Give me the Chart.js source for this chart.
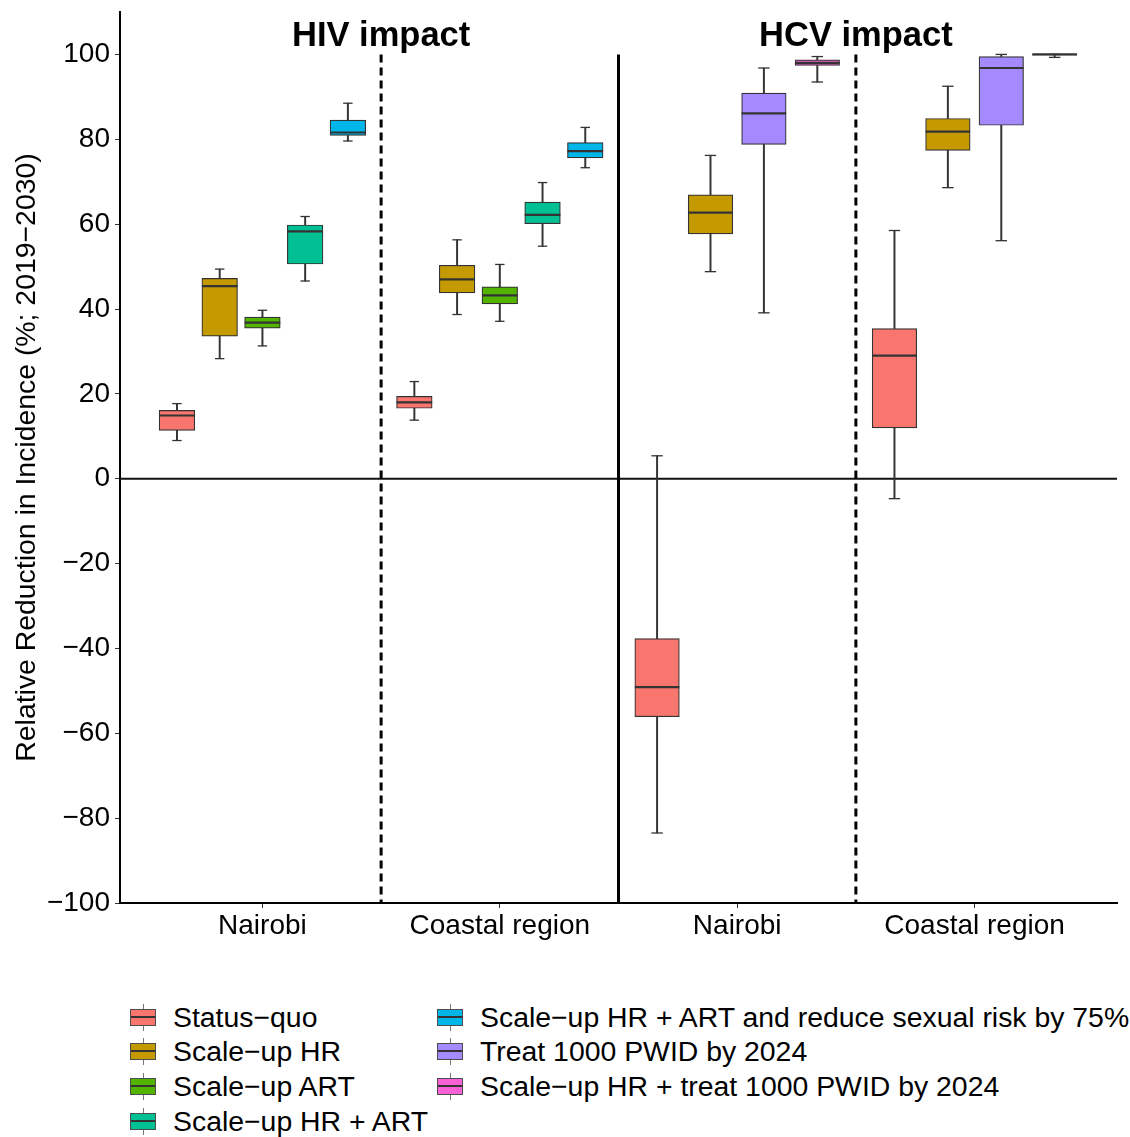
<!DOCTYPE html>
<html>
<head>
<meta charset="utf-8">
<title>Relative reduction in incidence</title>
<script src="https://cdn.jsdelivr.net/npm/chart.js@4"></script>
<style>
  body { margin: 0; background: #fff; font-family: "Liberation Sans", Arial, sans-serif; }
  #wrap { position: relative; width: 1130px; height: 1137px; }
  #box { position: absolute; left: 0; top: 0; width: 1130px; height: 953px; }
  .item { position: absolute; display: flex; align-items: center; height: 34px; font-size: 28.4px; color: #000; white-space: nowrap; }
  .key { position: relative; width: 24px; height: 15px; border: 1px solid #4d4d4d; margin-right: 17px; }
  .key .med { position: absolute; left: 0; right: 0; top: 6px; height: 2px; background: #333; }
  .key .stub { position: absolute; left: 12px; width: 1px; height: 5px; background: #777; }
  .key .up { top: -6px; }
  .key .down { bottom: -6px; }
</style>
</head>
<body>
<div id="wrap">
  <div id="box"><canvas id="boxChart"></canvas></div>
  <div id="legend"></div>
</div>
<script>
// series (legend order) and their fill colours
const series = [
  'Status\u2212quo',
  'Scale\u2212up HR',
  'Scale\u2212up ART',
  'Scale\u2212up HR + ART',
  'Scale\u2212up HR + ART and reduce sexual risk by 75%',
  'Treat 1000 PWID by 2024',
  'Scale\u2212up HR + treat 1000 PWID by 2024'
];
const seriesColors = ['#F8766D', '#C49A00', '#53B400', '#00C094', '#00B6EB', '#A58AFF', '#FB61D7'];

const panels = ['HIV impact', 'HCV impact'];
const regions = ['Nairobi', 'Coastal region'];
const hivSeries = [0, 1, 2, 3, 4];
const hcvSeries = [0, 1, 5, 6];

// each box: [lower whisker, q1, median, q3, upper whisker]
const hivNairobi = [
  [9.0, 11.4, 14.9, 16.1, 17.7],
  [28.3, 33.6, 45.4, 47.2, 49.4],
  [31.3, 35.5, 36.8, 38.1, 39.7],
  [46.6, 50.6, 58.3, 59.8, 61.8],
  [79.6, 80.9, 81.6, 84.5, 88.5]
];
const hivCoastal = [
  [13.8, 16.6, 18.0, 19.4, 22.9],
  [38.7, 43.8, 47.0, 50.3, 56.3],
  [37.1, 41.2, 43.2, 45.2, 50.5],
  [54.8, 60.1, 62.2, 65.2, 69.8],
  [73.3, 75.6, 77.2, 79.2, 82.8]
];
const hcvNairobi = [
  [-83.5, -56.1, -49.1, -37.7, 5.4],
  [48.8, 57.7, 62.7, 66.9, 76.2],
  [39.1, 78.8, 86.1, 90.9, 96.8],
  [93.5, 97.4, 98.0, 98.7, 99.5]
];
const hcvCoastal = [
  [-4.7, 12.0, 29.0, 35.4, 58.5],
  [68.6, 77.4, 81.8, 84.9, 92.5],
  [56.1, 83.3, 96.8, 99.5, 100],
  [99.3, 99.8, 100, 100, 100]
];

const yTicks = [-100, -80, -60, -40, -20, 0, 20, 40, 60, 80, 100];

// layout: 4 groups on a 0.4..4.6 axis, boxes dodged within 0.9 of a unit
const groups = [
  { panel: 0, ids: hivSeries, stats: hivNairobi },
  { panel: 0, ids: hivSeries, stats: hivCoastal },
  { panel: 1, ids: hcvSeries, stats: hcvNairobi },
  { panel: 1, ids: hcvSeries, stats: hcvCoastal }
];
const plotWidth = 1130 - 120 - 13;
const pxPerUnit = plotWidth / 4.2;
const dark = '#333333';

const datasets = [];
panels.forEach((p, pi) => {
  const items = [];
  groups.forEach((g, gi) => {
    if (g.panel !== pi) return;
    const n = g.ids.length;
    g.ids.forEach((sid, i) => {
      items.push({ x: gi + 1 + (i - (n - 1) / 2) * 0.9 / n, s: g.stats[i], color: seriesColors[sid] });
    });
  });
  const n = pi === 0 ? hivSeries.length : hcvSeries.length;
  const boxW = 0.75 / n * pxPerUnit;
  datasets.push({
    type: 'bar', order: 2, grouped: false, barThickness: boxW,
    data: items.map(d => ({ x: d.x, y: [d.s[1], d.s[3]] })),
    backgroundColor: items.map(d => d.color),
    borderColor: dark, borderWidth: 1.2, borderSkipped: false
  });
  datasets.push({
    type: 'bar', order: 3, grouped: false, barThickness: 1.3,
    data: items.flatMap(d => [{ x: d.x, y: [d.s[0], d.s[1]] }, { x: d.x, y: [d.s[3], d.s[4]] }]),
    backgroundColor: dark, borderWidth: 0
  });
  datasets.push({
    type: 'line', order: 1, showLine: false,
    data: items.flatMap(d => [{ x: d.x, y: d.s[0] }, { x: d.x, y: d.s[4] }]),
    pointStyle: 'line', pointRadius: pi === 0 ? 4.7 : 5.7, pointBorderWidth: 1.3, pointBorderColor: dark
  });
  datasets.push({
    type: 'line', order: 1, showLine: false,
    data: items.map(d => ({ x: d.x, y: d.s[2] })),
    pointStyle: 'line', pointRadius: boxW / 2, pointBorderWidth: 2.2, pointBorderColor: dark
  });
});

// panel separators and the zero line
[[1.5, [8, 5]], [2.5, []], [3.5, [8, 5]]].forEach(([xv, dash]) => {
  datasets.push({
    type: 'line', order: 10, data: [{ x: xv, y: 100 }, { x: xv, y: -100 }],
    borderColor: '#000', borderWidth: 3, borderDash: dash, pointRadius: 0, fill: false
  });
});
datasets.push({
  type: 'line', order: 10, data: [{ x: 0.4, y: 0 }, { x: 4.6, y: 0 }],
  borderColor: '#111', borderWidth: 2, pointRadius: 0, fill: false
});

const panelTitles = {
  id: 'panelTitles',
  afterDraw(chart) {
    const { ctx, scales: { x, y } } = chart;
    ctx.save();
    ctx.font = 'bold 34.5px "Liberation Sans", Arial, sans-serif';
    ctx.fillStyle = '#000';
    ctx.textAlign = 'center';
    ctx.textBaseline = 'alphabetic';
    panels.forEach((t, i) => ctx.fillText(t, x.getPixelForValue(1.5 + 2 * i), y.getPixelForValue(102)));
    ctx.restore();
  }
};

Chart.defaults.font.family = '"Liberation Sans", Arial, sans-serif';
Chart.defaults.color = '#000';

new Chart(document.getElementById('boxChart'), {
  type: 'bar',
  data: { datasets },
  options: {
    responsive: true,
    maintainAspectRatio: false,
    animation: false,
    events: [],
    layout: { autoPadding: false, padding: { left: 0, right: 13, top: 12, bottom: 0 } },
    plugins: { legend: { display: false }, tooltip: { enabled: false } },
    scales: {
      x: {
        type: 'linear', min: 0.4, max: 4.6, offset: false,
        afterBuildTicks: s => { s.ticks = [1, 2, 3, 4].map(v => ({ value: v })); },
        afterFit: s => { s.height = 50; s.paddingLeft = 0; s.paddingRight = 0; },
        grid: { offset: false, drawOnChartArea: false, drawTicks: true, tickLength: 5, color: dark },
        border: { display: true, color: '#000', width: 2 },
        ticks: {
          autoSkip: false, maxRotation: 0, padding: 1, color: '#000', font: { size: 28 },
          callback: v => regions[(Math.round(v) - 1) % 2]
        }
      },
      y: {
        type: 'linear', min: -100, max: 110,
        afterBuildTicks: s => { s.ticks = yTicks.map(v => ({ value: v })); },
        afterFit: s => { s.width = 120; s.paddingTop = 0; s.paddingBottom = 0; },
        grid: { offset: false, drawOnChartArea: false, drawTicks: true, tickLength: 5, color: dark },
        border: { display: true, color: '#000', width: 2 },
        ticks: {
          padding: 5, color: '#000', font: { size: 28 },
          callback: v => String(v).replace('-', '\u2212')
        },
        title: {
          display: true, text: 'Relative Reduction in Incidence (%; 2019\u22122030)',
          color: '#000', font: { size: 28.4 }, padding: { top: 10, bottom: 0 }
        }
      }
    }
  },
  plugins: [panelTitles]
});

// legend in two columns, filled column by column
const legend = document.getElementById('legend');
series.forEach((name, i) => {
  const col = i < 4 ? 0 : 1;
  const row = i < 4 ? i : i - 4;
  const item = document.createElement('div');
  item.className = 'item';
  item.style.left = (col ? 437 : 130) + 'px';
  item.style.top = (1000 + row * 34.8) + 'px';
  const key = document.createElement('div');
  key.className = 'key';
  key.style.background = seriesColors[i];
  key.innerHTML = '<i class="stub up"></i><i class="med"></i><i class="stub down"></i>';
  const label = document.createElement('span');
  label.textContent = name;
  item.appendChild(key);
  item.appendChild(label);
  legend.appendChild(item);
});
</script>
</body>
</html>
